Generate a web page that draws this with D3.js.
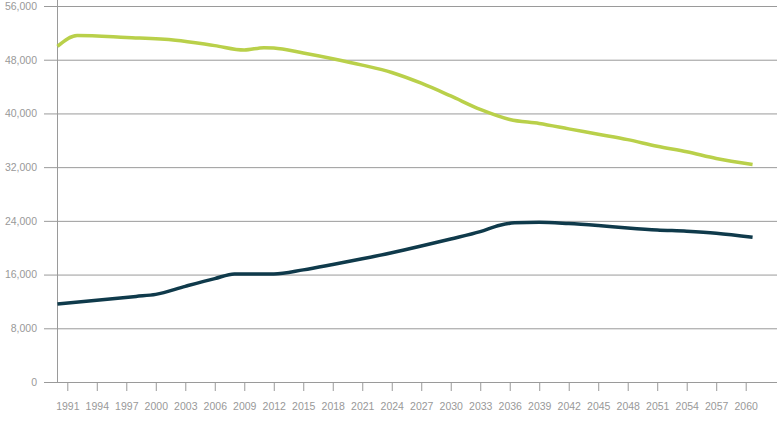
<!DOCTYPE html>
<html>
<head>
<meta charset="utf-8">
<script src="https://cdn.jsdelivr.net/npm/d3@7"></script>
<style>
  html, body { margin: 0; padding: 0; background: #fff; }
  svg { display: block; }
  text { font-family: "Liberation Sans", Arial, Helvetica, sans-serif; }
</style>
</head>
<body>
<svg id="chart" width="784" height="428"></svg>
<script>
// ---- data ----
const tickYears = [1991,1994,1997,2000,2003,2006,2009,2012,2015,2018,2021,2024,2027,2030,2033,2036,2039,2042,2045,2048,2051,2054,2057,2060];
const yTicks = [0, 8000, 16000, 24000, 32000, 40000, 48000, 56000];

const greenYears = [1990,1992,1997,2002,2006,2009,2011,2012,2015,2018,2021,2024,2027,2030,2033,2036,2039,2042,2045,2048,2051,2054,2057,2060.7];
const greenValues = [50000,51600,51300,50900,50100,49450,49800,49750,49000,48150,47200,46100,44500,42600,40600,39100,38500,37700,36900,36100,35100,34300,33300,32400];

const darkYears = [1990,1998,2000,2003,2006,2008,2012,2015,2018,2021,2024,2027,2030,2033,2035,2036.5,2039,2042,2045,2048,2051,2054,2057,2060.7];
const darkValues = [11600,12750,13050,14250,15400,16100,16100,16700,17500,18350,19250,20250,21300,22400,23350,23700,23800,23600,23300,22950,22650,22450,22150,21550];

// ---- layout ----
const svg = d3.select("#chart");
const axisX = 57.5, baseY = 382, topY = 6;
const gridLeft = 44, gridRight = 777;

const x = d3.scaleLinear().domain([1991, 2060]).range([67.3, 745.7]);
const y = d3.scaleLinear().domain([0, 56000]).range([baseY, topY]);

const gray = "#9a9a9a";
const labelGray = "#999999";

// gridlines + y labels
const yAxis = d3.axisLeft(y)
  .tickValues(yTicks)
  .tickSize(-(gridRight - axisX))
  .tickPadding(8)
  .tickFormat(d3.format(","));
const gy = svg.append("g").attr("transform", `translate(${axisX},0)`).call(yAxis);
gy.select(".domain").remove();
gy.selectAll(".tick line").attr("stroke", gray).attr("stroke-width", 1)
  .attr("x1", gridLeft - axisX).attr("x2", gridRight - axisX);
gy.selectAll(".tick text")
  .attr("x", 37 - axisX)
  .attr("fill", labelGray).attr("font-size", 10.5);

// vertical axis line
svg.append("line")
  .attr("x1", axisX).attr("x2", axisX)
  .attr("y1", 0).attr("y2", baseY)
  .attr("stroke", gray).attr("stroke-width", 1);

// x axis ticks + labels
const xAxis = d3.axisBottom(x)
  .tickValues(tickYears)
  .tickSize(9)
  .tickPadding(12)
  .tickFormat(d3.format("d"));
const gx = svg.append("g").attr("transform", `translate(0,${baseY})`).call(xAxis);
gx.select(".domain").remove();
gx.selectAll(".tick line").attr("stroke", gray);
gx.selectAll(".tick text").attr("fill", labelGray).attr("font-size", 10.5);

// lines
const line = d3.line()
  .x(d => x(d[0]))
  .y(d => y(d[1]))
  .curve(d3.curveMonotoneX);

svg.append("path")
  .datum(greenYears.map((yr, i) => [yr, greenValues[i]]))
  .attr("d", line)
  .attr("fill", "none")
  .attr("stroke", "#b9d04a")
  .attr("stroke-width", 3.5);

svg.append("path")
  .datum(darkYears.map((yr, i) => [yr, darkValues[i]]))
  .attr("d", line)
  .attr("fill", "none")
  .attr("stroke", "#0f3a4b")
  .attr("stroke-width", 3.5);
</script>
</body>
</html>
